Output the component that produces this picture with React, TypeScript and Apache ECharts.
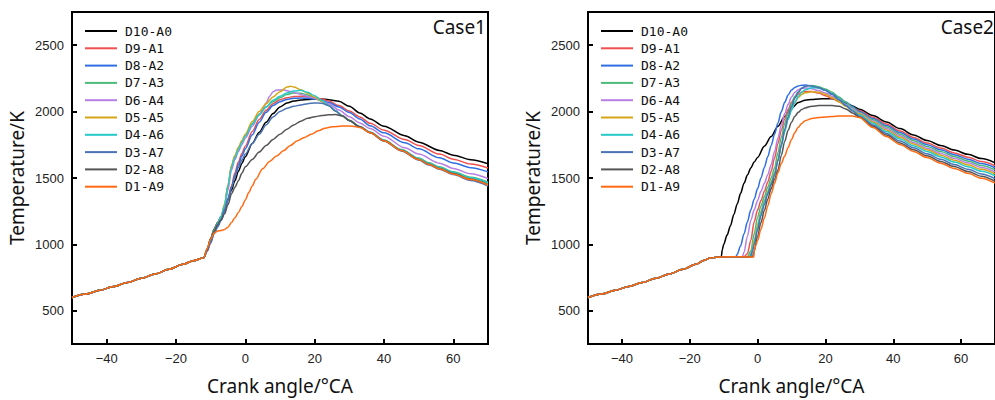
import React, { useEffect, useRef } from "react";
import * as echarts from "echarts";

const seriesNames = ["D10-A0", "D9-A1", "D8-A2", "D7-A3", "D6-A4", "D5-A5", "D4-A6", "D3-A7", "D2-A8", "D1-A9"];
const seriesColors = ["#000000", "#f0504e", "#2f6fe4", "#4cbb7a", "#b77fe3", "#d6a516", "#25c9c9", "#4a72b5", "#555555", "#ff6a12"];
const xTicks = [-40, -20, 0, 20, 40, 60];
const yTicks = [500, 1000, 1500, 2000, 2500];
const panelTitles = ["Case1", "Case2"];

// ---- Case1 ----
const case1Compression = [[-50, 600], [-46, 626], [-42, 654], [-38, 683], [-34, 713], [-30, 745], [-26, 778], [-22, 813], [-18, 850], [-15, 877], [-12, 900]];
const case1D10A0 = [[-11, 965], [-10, 1045], [-9, 1115], [-8, 1165], [-7, 1210], [-6, 1270], [-5, 1340], [-4, 1410], [-3, 1480], [-2, 1550], [-1, 1610], [0, 1660], [2, 1760], [4, 1845], [6, 1920], [8, 1985], [10, 2035], [12, 2065], [14, 2080], [16, 2088], [18, 2092], [20, 2095], [22, 2095], [24, 2090], [27, 2078], [30, 2040], [33, 1990], [36, 1945], [40, 1890], [46, 1818], [50, 1770], [56, 1708], [60, 1672], [65, 1638], [70, 1607]];
const case1D9A1 = [[-11, 950], [-10, 1020], [-9, 1090], [-8, 1140], [-7, 1185], [-6, 1250], [-5, 1340], [-4, 1440], [-3, 1540], [-2, 1620], [-1, 1685], [0, 1740], [2, 1850], [4, 1940], [6, 2010], [8, 2060], [10, 2090], [12, 2105], [14, 2113], [16, 2115], [18, 2112], [20, 2105], [22, 2095], [24, 2080], [27, 2045], [30, 2005], [33, 1960], [36, 1912], [40, 1860], [46, 1790], [50, 1745], [56, 1680], [60, 1642], [65, 1605], [70, 1575]];
const case1D8A2 = [[-11, 950], [-10, 1010], [-9, 1080], [-8, 1130], [-7, 1180], [-6, 1245], [-5, 1330], [-4, 1430], [-3, 1520], [-2, 1600], [-1, 1665], [0, 1720], [2, 1825], [4, 1920], [6, 1995], [8, 2045], [10, 2075], [12, 2092], [14, 2100], [16, 2102], [18, 2100], [20, 2095], [22, 2085], [24, 2068], [27, 2035], [30, 1993], [33, 1945], [36, 1893], [40, 1840], [46, 1765], [50, 1720], [56, 1652], [60, 1613], [65, 1578], [70, 1546]];
const case1D7A3 = [[-11, 960], [-10, 1040], [-9, 1110], [-8, 1160], [-7, 1210], [-6, 1300], [-5, 1445], [-4, 1590], [-3, 1665], [-2, 1725], [-1, 1775], [0, 1822], [2, 1910], [4, 1980], [6, 2035], [8, 2075], [10, 2105], [12, 2128], [14, 2140], [16, 2138], [18, 2125], [20, 2103], [22, 2078], [24, 2045], [26, 2005], [28, 1967], [30, 1934], [33, 1888], [36, 1845], [40, 1786], [45, 1715], [50, 1650], [53, 1615], [56, 1584], [60, 1547], [65, 1506], [70, 1468]];
const case1D6A4 = [[-11, 955], [-10, 1025], [-9, 1095], [-8, 1145], [-7, 1195], [-6, 1270], [-5, 1410], [-4, 1560], [-3, 1640], [-2, 1700], [-1, 1752], [0, 1800], [2, 1890], [4, 1975], [5, 2020], [6, 2065], [7, 2115], [8, 2150], [9, 2162], [11, 2163], [13, 2152], [15, 2137], [17, 2122], [19, 2107], [21, 2092], [24, 2060], [27, 2012], [30, 1962], [33, 1915], [36, 1872], [40, 1815], [46, 1727], [50, 1680], [56, 1612], [60, 1572], [65, 1532], [70, 1496]];
const case1D5A5 = [[-11, 962], [-10, 1035], [-9, 1105], [-8, 1155], [-7, 1205], [-6, 1300], [-5, 1450], [-4, 1595], [-3, 1670], [-2, 1730], [-1, 1782], [0, 1830], [2, 1925], [4, 2000], [6, 2060], [8, 2110], [10, 2150], [12, 2185], [13, 2190], [14, 2186], [16, 2165], [18, 2138], [20, 2108], [22, 2078], [24, 2045], [26, 2005], [28, 1967], [30, 1933], [33, 1886], [36, 1843], [40, 1782], [45, 1710], [50, 1643], [53, 1607], [56, 1575], [60, 1537], [65, 1495], [70, 1455]];
const case1D4A6 = [[-11, 960], [-10, 1035], [-9, 1105], [-8, 1158], [-7, 1208], [-6, 1290], [-5, 1440], [-4, 1580], [-3, 1655], [-2, 1715], [-1, 1768], [0, 1815], [2, 1905], [4, 1975], [6, 2035], [8, 2085], [10, 2115], [12, 2140], [14, 2155], [16, 2160], [18, 2145], [20, 2120], [22, 2085], [24, 2048], [26, 2006], [28, 1968], [30, 1933], [33, 1887], [36, 1844], [40, 1784], [45, 1713], [50, 1647], [53, 1611], [56, 1580], [60, 1542], [65, 1501], [70, 1462]];
const case1D3A7 = [[-11, 955], [-10, 1020], [-9, 1085], [-8, 1140], [-7, 1190], [-6, 1260], [-5, 1345], [-4, 1430], [-3, 1510], [-2, 1580], [-1, 1635], [0, 1680], [2, 1760], [4, 1830], [6, 1900], [8, 1960], [10, 2000], [12, 2025], [14, 2040], [16, 2050], [18, 2060], [20, 2065], [22, 2063], [24, 2045], [26, 2005], [28, 1967], [30, 1932], [33, 1884], [36, 1840], [40, 1778], [45, 1704], [50, 1635], [53, 1598], [56, 1565], [60, 1526], [65, 1482], [70, 1440]];
const case1D2A8 = [[-11, 960], [-10, 1040], [-9, 1100], [-8, 1150], [-7, 1185], [-6, 1230], [-5, 1300], [-4, 1380], [-3, 1430], [-2, 1480], [-1, 1535], [0, 1585], [2, 1640], [4, 1695], [6, 1745], [8, 1790], [10, 1830], [12, 1868], [14, 1900], [16, 1928], [18, 1950], [20, 1962], [22, 1970], [24, 1976], [26, 1978], [28, 1968], [30, 1933], [33, 1885], [36, 1842], [40, 1781], [45, 1708], [50, 1640], [53, 1604], [56, 1572], [60, 1533], [65, 1491], [70, 1450]];
const case1D1A9 = [[-11, 970], [-10, 1040], [-9, 1085], [-8, 1100], [-7, 1105], [-6, 1112], [-5, 1130], [-4, 1165], [-3, 1200], [-2, 1240], [-1, 1285], [0, 1335], [1, 1390], [2, 1440], [3, 1490], [5, 1570], [7, 1625], [9, 1665], [11, 1705], [13, 1745], [15, 1780], [17, 1805], [19, 1830], [21, 1855], [23, 1875], [25, 1885], [28, 1892], [31, 1890], [33, 1880], [36, 1841], [40, 1780], [45, 1707], [50, 1639], [53, 1602], [56, 1570], [60, 1531], [65, 1488], [70, 1447]];

// ---- Case2 ----
const case2Compression = [[-50, 600], [-46, 626], [-42, 654], [-38, 683], [-34, 713], [-30, 745], [-26, 778], [-22, 813], [-18, 853], [-16, 878], [-14, 897], [-12, 904]];
const case2D10A0 = [[-11, 905], [-10.7, 907], [-10.4, 960], [-10, 1000], [-9, 1070], [-8, 1140], [-7, 1225], [-6, 1305], [-5, 1385], [-4, 1460], [-3, 1522], [-2, 1575], [-1, 1620], [0, 1655], [2, 1740], [4, 1812], [6, 1890], [8, 1963], [10, 2025], [12, 2068], [14, 2085], [16, 2092], [18, 2095], [20, 2097], [22, 2096], [24, 2085], [26, 2065], [28, 2042], [30, 2018], [34, 1970], [38, 1922], [42, 1872], [46, 1824], [50, 1782], [54, 1745], [58, 1710], [62, 1678], [66, 1646], [70, 1615]];
const case2D9A1 = [[-10, 906], [-8, 907], [-6, 907], [-4, 907], [-3, 930], [-2, 1030], [-1, 1170], [0, 1260], [1, 1330], [2, 1400], [3, 1470], [4, 1550], [5, 1650], [6, 1760], [7, 1860], [8, 1945], [9, 2015], [10, 2070], [11, 2108], [12, 2132], [13, 2146], [14, 2152], [16, 2152], [18, 2140], [20, 2120], [22, 2098], [24, 2075], [26, 2050], [28, 2030], [30, 2008], [34, 1957], [38, 1906], [42, 1854], [46, 1805], [50, 1763], [54, 1725], [58, 1689], [62, 1657], [66, 1624], [70, 1592]];
const case2D8A2 = [[-10, 906], [-8, 907], [-6.4, 907], [-6, 925], [-5, 990], [-4, 1080], [-3, 1170], [-2, 1260], [-1, 1340], [0, 1420], [1, 1500], [2, 1580], [3, 1660], [4, 1745], [5, 1830], [6, 1915], [7, 2000], [8, 2070], [9, 2125], [10, 2162], [11, 2182], [12, 2193], [13, 2198], [14, 2200], [16, 2195], [18, 2180], [20, 2160], [22, 2135], [24, 2105], [26, 2072], [28, 2038], [30, 2001], [34, 1948], [38, 1895], [42, 1842], [46, 1793], [50, 1750], [54, 1712], [58, 1676], [62, 1642], [66, 1609], [70, 1577]];
const case2D7A3 = [[-10, 906], [-8, 907], [-6, 907], [-3, 907], [-2, 950], [-1, 1080], [0, 1205], [1, 1290], [2, 1360], [3, 1430], [4, 1500], [5, 1575], [6, 1690], [7, 1805], [8, 1910], [9, 1990], [10, 2060], [11, 2115], [12, 2150], [13, 2175], [14, 2188], [15, 2195], [16, 2196], [18, 2188], [20, 2170], [22, 2145], [24, 2110], [26, 2070], [28, 2030], [30, 1994], [34, 1939], [38, 1884], [42, 1830], [46, 1781], [50, 1737], [54, 1699], [58, 1662], [62, 1628], [66, 1594], [70, 1561]];
const case2D6A4 = [[-10, 906], [-8, 907], [-6, 907], [-4.5, 907], [-4, 940], [-3, 1060], [-2, 1180], [-1, 1260], [0, 1330], [1, 1400], [2, 1460], [3, 1525], [4, 1600], [5, 1700], [6, 1800], [7, 1900], [8, 1985], [9, 2055], [10, 2110], [11, 2145], [12, 2165], [13, 2175], [14, 2178], [16, 2172], [18, 2158], [20, 2140], [22, 2115], [24, 2085], [26, 2055], [28, 2022], [30, 1987], [34, 1930], [38, 1873], [42, 1818], [46, 1768], [50, 1724], [54, 1685], [58, 1648], [62, 1614], [66, 1579], [70, 1546]];
const case2D5A5 = [[-10, 906], [-8, 907], [-6, 907], [-2.5, 907], [-2, 930], [-1, 1030], [0, 1150], [1, 1250], [2, 1330], [3, 1400], [4, 1470], [5, 1540], [6, 1640], [7, 1750], [8, 1860], [9, 1950], [10, 2020], [11, 2070], [12, 2105], [13, 2128], [14, 2142], [16, 2150], [18, 2145], [20, 2130], [22, 2105], [24, 2075], [26, 2040], [28, 2010], [30, 1981], [34, 1921], [38, 1862], [42, 1806], [46, 1756], [50, 1712], [54, 1672], [58, 1634], [62, 1599], [66, 1565], [70, 1531]];
const case2D4A6 = [[-10, 906], [-8, 907], [-6, 907], [-2.3, 907], [-1.5, 960], [-1, 1010], [0, 1130], [1, 1235], [2, 1320], [3, 1390], [4, 1460], [5, 1530], [6, 1630], [7, 1740], [8, 1850], [9, 1940], [10, 2010], [11, 2070], [12, 2115], [13, 2145], [14, 2165], [16, 2180], [18, 2178], [20, 2160], [22, 2130], [24, 2090], [26, 2050], [28, 2010], [30, 1974], [34, 1912], [38, 1851], [42, 1794], [46, 1743], [50, 1699], [54, 1659], [58, 1620], [62, 1585], [66, 1550], [70, 1516]];
const case2D3A7 = [[-10, 906], [-8, 907], [-6, 907], [-2, 907], [-1.5, 950], [-1, 1000], [0, 1110], [1, 1215], [2, 1300], [3, 1380], [4, 1450], [5, 1520], [6, 1630], [7, 1750], [8, 1865], [9, 1960], [10, 2040], [11, 2100], [12, 2145], [13, 2175], [14, 2190], [15, 2195], [16, 2193], [18, 2180], [20, 2160], [22, 2130], [24, 2090], [26, 2045], [28, 2005], [30, 1965], [34, 1900], [38, 1836], [42, 1778], [46, 1727], [50, 1682], [54, 1641], [58, 1602], [62, 1566], [66, 1531], [70, 1496]];
const case2D2A8 = [[-10, 906], [-8, 907], [-6, 907], [-1.5, 907], [-1, 950], [0, 1060], [1, 1165], [2, 1255], [3, 1340], [4, 1420], [5, 1490], [6, 1560], [7, 1670], [8, 1775], [9, 1860], [10, 1920], [11, 1965], [12, 1995], [13, 2015], [14, 2028], [16, 2040], [18, 2045], [20, 2046], [22, 2045], [24, 2040], [26, 2020], [28, 1990], [30, 1957], [34, 1889], [38, 1823], [42, 1764], [46, 1712], [50, 1667], [54, 1625], [58, 1586], [62, 1549], [66, 1513], [70, 1477]];
const case2D1A9 = [[-10, 906], [-8, 907], [-6, 907], [-3, 906], [-1.1, 906], [-1, 950], [-0.5, 995], [0, 1030], [1, 1115], [2, 1200], [3, 1290], [4, 1380], [5, 1460], [6, 1540], [7, 1610], [8, 1665], [9, 1730], [10, 1790], [11, 1843], [12, 1882], [13, 1910], [14, 1932], [16, 1948], [18, 1955], [20, 1960], [22, 1963], [24, 1966], [26, 1967], [28, 1966], [30, 1955], [34, 1880], [38, 1812], [42, 1752], [46, 1700], [50, 1654], [54, 1612], [58, 1572], [62, 1535], [66, 1498], [70, 1462]];

const case1Series = [case1D10A0, case1D9A1, case1D8A2, case1D7A3, case1D6A4, case1D5A5, case1D4A6, case1D3A7, case1D2A8, case1D1A9];
const case2Series = [case2D10A0, case2D9A1, case2D8A2, case2D7A3, case2D6A4, case2D5A5, case2D4A6, case2D3A7, case2D2A8, case2D1A9];

const minusFmt = (v: number) => (v < 0 ? "\u2212" + Math.abs(v) : String(v));

export default function App() {
  const ref = useRef<HTMLDivElement>(null);
  useEffect(() => {
    if (!ref.current) return;
    const chart = echarts.init(ref.current, null, { renderer: "svg" });
    const gridLefts = [72, 588];
    const grids = gridLefts.map((left) => ({
      left,
      top: 12,
      width: 416,
      height: 335,
      show: true,
      borderColor: "#000",
      borderWidth: 2,
      containLabel: false,
    }));
    const xAxes = [0, 1].map((g) => ({
      type: "value",
      gridIndex: g,
      min: -50,
      max: 70,
      name: "Crank angle/°CA",
      nameLocation: "middle",
      nameGap: 32,
      nameTextStyle: { fontSize: 19, fontFamily: "Noto Sans", color: "#111" },
      axisLine: { show: true, onZero: false, lineStyle: { color: "#000", width: 2 } },
      axisTick: { show: true, inside: true, length: 5, customValues: xTicks, lineStyle: { color: "#000", width: 2 } },
      axisLabel: { customValues: xTicks, fontSize: 13, color: "#222", fontFamily: "Liberation Sans", margin: 8, formatter: minusFmt },
      splitLine: { show: false },
    }));
    const yAxes = [0, 1].map((g) => ({
      type: "value",
      gridIndex: g,
      min: 250,
      max: 2750,
      name: "Temperature/K",
      nameLocation: "middle",
      nameRotate: 90,
      nameGap: 46,
      nameTextStyle: { fontSize: 19, fontFamily: "Noto Sans", color: "#111" },
      axisLine: { show: true, onZero: false, lineStyle: { color: "#000", width: 2 } },
      axisTick: { show: true, inside: true, length: 5, customValues: yTicks, lineStyle: { color: "#000", width: 2 } },
      axisLabel: { customValues: yTicks, fontSize: 13, color: "#222", fontFamily: "Liberation Sans", margin: 8, formatter: (v: number) => String(v) },
      splitLine: { show: false },
    }));
    const legends = gridLefts.map((left) => ({
      show: true,
      orient: "vertical",
      left: left + 8,
      top: 19,
      data: seriesNames,
      icon: "rect",
      itemWidth: 32,
      itemHeight: 2,
      itemGap: 3.3,
      selectedMode: false,
      textStyle: { fontFamily: "DejaVu Sans Mono", fontSize: 13, color: "#111", lineHeight: 14, padding: [0, 0, 0, 3] },
    }));
    const series: any[] = [];
    [case1Series, case2Series].forEach((set, g) => {
      const comp = g === 0 ? case1Compression : case2Compression;
      set.forEach((d, i) => {
        series.push({
          type: "line",
          name: seriesNames[i],
          xAxisIndex: g,
          yAxisIndex: g,
          data: comp.concat(d),
          showSymbol: false,
          symbol: "none",
          smooth: 0.3,
          smoothMonotone: "x",
          color: seriesColors[i],
          lineStyle: { color: seriesColors[i], width: 1.5 },
        });
      });
    });
    chart.setOption({
      animation: false,
      backgroundColor: "#fff",
      grid: grids,
      xAxis: xAxes,
      yAxis: yAxes,
      legend: legends,
      series,
      graphic: [
        { type: "text", x: 486, y: 27, style: { text: panelTitles[0], align: "right", verticalAlign: "middle", fontSize: 19, fontFamily: "Noto Sans", fill: "#111" } },
        { type: "text", x: 994, y: 27, style: { text: panelTitles[1], align: "right", verticalAlign: "middle", fontSize: 19, fontFamily: "Noto Sans", fill: "#111" } },
      ],
    });
    return () => chart.dispose();
  }, []);
  return <div ref={ref} style={{ position: "fixed", left: 0, top: 0, width: 995, height: 400 }} />;
}
